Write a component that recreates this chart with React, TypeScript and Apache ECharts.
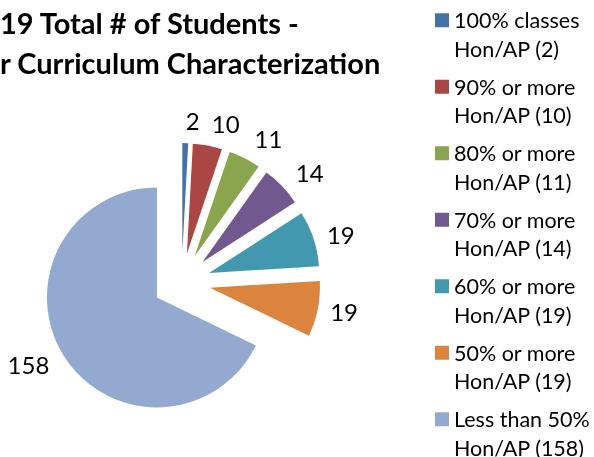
import React, { useEffect, useRef } from "react";
import * as echarts from "echarts";

const categories = [
  "100% classes",
  "90% or more",
  "80% or more",
  "70% or more",
  "60% or more",
  "50% or more",
  "Less than 50%",
];
const values = [2, 10, 11, 14, 19, 19, 158];
const suffix = "Hon/AP";
const titleLines = ["19 Total # of Students -", "r Curriculum Characterization"];
const colors = ["#4572A7", "#AA4643", "#89A54E", "#71588F", "#4198AF", "#DB843D", "#93A9CF"];

const FONT = "Lato, 'Open Sans', sans-serif";

export default function App() {
  const ref = useRef<HTMLDivElement>(null);
  useEffect(() => {
    const chart = echarts.init(ref.current!, null, { renderer: "svg" });
    const names = categories.map((c, i) => `${c}\n${suffix} (${values[i]})`);
    const total = values.reduce((a, b) => a + b, 0);
    const CX = 181.5;
    const CY = 282;
    const R = 110;
    const EXPLODE = 29;
    let cum = 0;
    const series = values.map((v, i) => {
      const mid = ((cum + v / 2) / total) * 2 * Math.PI;
      cum += v;
      const cx = CX + EXPLODE * Math.sin(mid);
      const cy = CY - EXPLODE * Math.cos(mid);
      const labelLen = 10 + 13 * Math.abs(Math.cos(mid));
      return {
        type: "pie",
        name: names[i],
        center: [cx, cy],
        radius: [0, R],
        startAngle: 90,
        clockwise: true,
        avoidLabelOverlap: false,
        silent: true,
        emphasis: { disabled: true },
        label: { show: false },
        labelLine: { show: false },
        data: values.map((w, j) => ({
          name: names[j],
          value: w,
          itemStyle: { color: j === i ? colors[j] : "rgba(0,0,0,0)" },
          label:
            j === i
              ? {
                  show: true,
                  position: "outside",
                  formatter: "{c}",
                  fontSize: 24,
                  color: "#000",
                  fontFamily: FONT,
                  distanceToLabelLine: 0,
                }
              : { show: false },
          labelLine: { show: false, length: labelLen, length2: 0 },
        })),
      };
    });
    chart.setOption({
      animation: false,
      title: {
        text: titleLines.join("\n"),
        left: 0,
        top: 2,
        padding: 0,
        textStyle: {
          fontFamily: FONT,
          fontSize: 29,
          fontWeight: "bold",
          color: "#000",
          lineHeight: 40,
        },
      },
      legend: {
        orient: "vertical",
        left: 435,
        top: -22.5,
        height: 800,
        padding: 0,
        itemWidth: 14,
        itemHeight: 14,
        itemGap: -19,
        icon: "rect",
        selectedMode: false,
        formatter: (name: string) => "\n" + name,
        data: names.map((n, i) => ({ name: n, itemStyle: { color: colors[i] } })),
        textStyle: {
          fontFamily: FONT,
          fontSize: 21.5,
          lineHeight: 28.5,
          color: "#000",
        },
      },
      series,
    });
    return () => chart.dispose();
  }, []);
  return (
    <div
      ref={ref}
      style={{ position: "fixed", left: 0, top: 0, width: 594, height: 457 }}
    />
  );
}
